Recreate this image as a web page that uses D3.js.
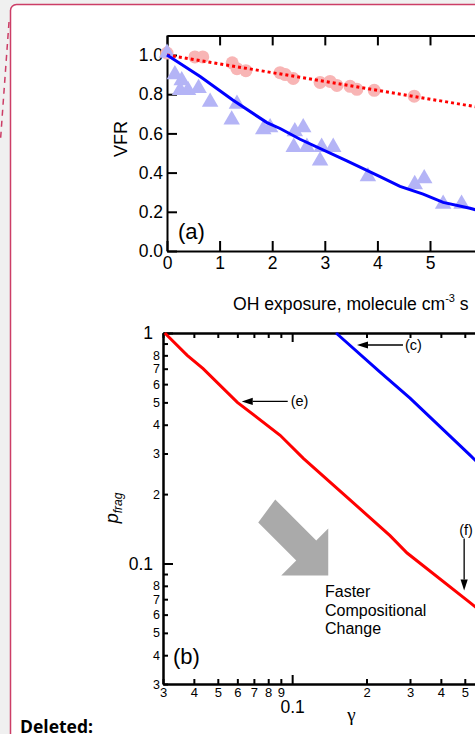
<!DOCTYPE html>
<html><head><meta charset="utf-8">
<script src="https://cdn.jsdelivr.net/npm/d3@7"></script>
<style>
html,body{margin:0;padding:0;background:#f0f0f0;overflow:hidden;}
svg{display:block;}
text{font-family:"Liberation Sans",Arial,sans-serif;fill:#000;}
</style></head><body>
<svg id="c" width="475" height="734"></svg>
<script>
// ---------- Panel (a) data ----------
const exposureTicks = [0, 1, 2, 3, 4, 5, 6];
const exposureLabels = ["0", "1", "2", "3", "4", "5", ""];
const vfrTicks = [0, 0.2, 0.4, 0.6, 0.8, 1.0];
const circleX = [0, 0.53, 0.68, 1.24, 1.33, 1.5, 2.15, 2.25, 2.4, 2.91, 3.1, 3.23, 3.48, 3.61, 3.94, 4.7];
const circleY = [1.01, 0.99, 0.99, 0.96, 0.93, 0.92, 0.91, 0.90, 0.88, 0.86, 0.865, 0.845, 0.84, 0.825, 0.82, 0.79];
const triX = [0, 0.15, 0.28, 0.25, 0.4, 0.6, 0.82, 1.23, 1.33, 1.83, 1.96, 2.43, 2.41, 2.59, 2.66, 2.94, 2.91, 3.16, 3.82, 4.71, 4.89, 5.25, 5.6];
const triY = [1.01, 0.90, 0.87, 0.82, 0.82, 0.83, 0.76, 0.67, 0.75, 0.62, 0.63, 0.61, 0.53, 0.63, 0.53, 0.53, 0.46, 0.53, 0.38, 0.34, 0.37, 0.24, 0.24];
const redFitX = [0, 6];
const redFitY = [1.0, 0.73];
const blueFitX = [0, 0.63, 1.25, 1.9, 2.15, 2.53, 3.42, 4.05, 4.43, 4.87, 5.25, 5.76, 6];
const blueFitY = [1.0, 0.89, 0.77, 0.655, 0.625, 0.57, 0.46, 0.38, 0.33, 0.29, 0.248, 0.218, 0.2];

// ---------- Panel (b) data ----------
const gammaMajor = [0.1];
const gammaMajorLabels = ["0.1"];
const gammaMinor = [0.03, 0.04, 0.05, 0.06, 0.07, 0.08, 0.09, 0.2, 0.3, 0.4, 0.5, 0.6, 0.7, 0.8, 0.9];
const gammaMinorLabels = ["3", "4", "5", "6", "7", "8", "9", "2", "3", "4", "5", "", "", "", ""];
const pMajor = [0.1, 1];
const pMajorLabels = ["0.1", "1"];
const pMinor = [0.03, 0.04, 0.05, 0.06, 0.07, 0.08, 0.09, 0.2, 0.3, 0.4, 0.5, 0.6, 0.7, 0.8, 0.9];
const pMinorLabels = ["3", "4", "5", "6", "7", "8", "", "2", "3", "4", "5", "6", "7", "8", ""];
const redCurveG = [0.0305, 0.0376, 0.0436, 0.06, 0.0894, 0.111, 0.2, 0.249, 0.292, 0.525, 0.56];
const redCurveP = [1.0, 0.80, 0.70, 0.50, 0.36, 0.286, 0.163, 0.132, 0.111, 0.0676, 0.064];
const blueCurveG = [0.1506, 0.227, 0.30, 0.525, 0.56];
const blueCurveP = [1.0, 0.677, 0.522, 0.295, 0.276];

const svg = d3.select("#c");

// ---------- page frame ----------
svg.append("rect").attr("x", 0).attr("y", 0).attr("width", 475).attr("height", 734).attr("fill", "#f0f0f0");
svg.append("rect").attr("x", 10.5).attr("y", 4.5).attr("width", 520).attr("height", 800)
  .attr("rx", 6).attr("fill", "#fff").attr("stroke", "#cc3d66").attr("stroke-width", 1.5);
svg.append("line").attr("x1", 9).attr("y1", 22).attr("x2", 0.5).attr("y2", 140)
  .attr("stroke", "#cc3d66").attr("stroke-width", 1.5).attr("stroke-dasharray", "6,5");
svg.append("text").attr("x", 20).attr("y", 733).text("Deleted:")
  .style("font-family", "'Open Sans','Noto Sans',sans-serif").style("font-weight", "700").style("font-size", "17.5px");

function styleAxis(g, fs) {
  g.select(".domain").attr("stroke", "#000").attr("stroke-width", 2);
  g.selectAll(".tick line").attr("stroke", "#000").attr("stroke-width", 2);
  g.selectAll(".tick text").style("font-size", fs + "px").style("font-family", "'Liberation Sans',Arial,sans-serif");
}

// ---------- Panel (a) ----------
const xA = d3.scaleLinear().domain([0, 6]).range([167, 167 + 6 * 52.6]);
const yA = d3.scaleLinear().domain([0, 1.1]).range([251, 251 - 1.1 * 196]);

const gA = svg.append("g");
gA.append("g").attr("transform", `translate(0,${yA(0)})`)
  .call(d3.axisBottom(xA).tickValues(exposureTicks).tickFormat((d, i) => exposureLabels[i]).tickSize(-10).tickSizeOuter(0).tickPadding(6))
  .call(g => styleAxis(g, 17.5));
gA.append("g").attr("transform", `translate(0,${yA(1.1)})`)
  .call(d3.axisTop(xA).tickValues(exposureTicks).tickFormat("").tickSize(-10).tickSizeOuter(0))
  .call(g => styleAxis(g, 17.5));
gA.append("g").attr("transform", `translate(${xA(0)},0)`)
  .call(d3.axisLeft(yA).tickValues(vfrTicks).tickFormat(d3.format(".1f")).tickSize(-10).tickSizeOuter(0).tickPadding(4))
  .call(g => styleAxis(g, 17.5));

// markers
gA.append("g").selectAll("circle").data(circleX.map((x, i) => [x, circleY[i]])).join("circle")
  .attr("cx", d => xA(d[0])).attr("cy", d => yA(d[1])).attr("r", 6.5).attr("fill", "#f8b5b5");
gA.append("g").selectAll("path").data(triX.map((x, i) => [x, triY[i]])).join("path")
  .attr("d", d3.symbol(d3.symbolTriangle).size(118))
  .attr("transform", d => `translate(${xA(d[0])},${yA(d[1])})`).attr("fill", "#b4b4f6");

const lineA = d3.line().x(d => xA(d[0])).y(d => yA(d[1]));
gA.append("path").datum(redFitX.map((x, i) => [x, redFitY[i]])).attr("d", lineA)
  .attr("fill", "none").attr("stroke", "#ff0000").attr("stroke-width", 3).attr("stroke-dasharray", "3,3");
gA.append("path").datum(blueFitX.map((x, i) => [x, blueFitY[i]])).attr("d", lineA)
  .attr("fill", "none").attr("stroke", "#0000ff").attr("stroke-width", 3);

gA.append("text").attr("x", 178).attr("y", 239).style("font-size", "22px").text("(a)");
gA.append("text").attr("transform", "translate(127,139) rotate(-90)").attr("text-anchor", "middle")
  .style("font-size", "18px").text("VFR");
const xt = gA.append("text").attr("x", 233).attr("y", 310).style("font-size", "17.6px");
xt.append("tspan").text("OH exposure, molecule cm");
xt.append("tspan").attr("dy", -8).style("font-size", "11px").text("-3");
xt.append("tspan").attr("dy", 8).text(" s");

// ---------- Panel (b) ----------
const xB = d3.scaleLog().domain([0.03, 1]).range([163, 163 + 247 * Math.log10(1 / 0.03)]);
const yB = d3.scaleLog().domain([0.03, 1]).range([684, 333]);

const gB = svg.append("g");
// bottom
gB.append("g").attr("transform", `translate(0,${yB(0.03)})`)
  .call(d3.axisBottom(xB).tickValues(gammaMinor).tickFormat((d, i) => gammaMinorLabels[i]).tickSize(-5).tickSizeOuter(0).tickPadding(4))
  .call(g => styleAxis(g, 13));
gB.append("g").attr("transform", `translate(0,${yB(0.03)})`)
  .call(d3.axisBottom(xB).tickValues(gammaMajor).tickFormat((d, i) => gammaMajorLabels[i]).tickSize(-9).tickSizeOuter(0).tickPadding(17))
  .call(g => styleAxis(g, 17.5));
// top
gB.append("g").attr("transform", `translate(0,${yB(1)})`)
  .call(d3.axisTop(xB).tickValues(gammaMinor).tickFormat("").tickSize(-5).tickSizeOuter(0))
  .call(g => styleAxis(g, 13));
gB.append("g").attr("transform", `translate(0,${yB(1)})`)
  .call(d3.axisTop(xB).tickValues(gammaMajor).tickFormat("").tickSize(-9).tickSizeOuter(0))
  .call(g => styleAxis(g, 13));
// left
gB.append("g").attr("transform", `translate(${xB(0.03)},0)`)
  .call(d3.axisLeft(yB).tickValues(pMinor).tickFormat((d, i) => pMinorLabels[i]).tickSize(-5).tickSizeOuter(0).tickPadding(3))
  .call(g => styleAxis(g, 12.5));
gB.append("g").attr("transform", `translate(${xB(0.03)},0)`)
  .call(d3.axisLeft(yB).tickValues(pMajor).tickFormat((d, i) => pMajorLabels[i]).tickSize(-10).tickSizeOuter(0).tickPadding(10))
  .call(g => styleAxis(g, 17.5));

// gray arrow (anchored at its tip in data space)
const tip = [xB(0.14), yB(0.0887)];
const arrowShape = [[-53, -76], [-12, -35], [0, -47], [0, 0], [-47, 0], [-32, -15], [-70, -53]];
gB.append("polygon").attr("points", arrowShape.map(p => [tip[0] + p[0], tip[1] + p[1]].join(",")).join(" "))
  .attr("fill", "#aaaaaa");

const lineB = d3.line().x(d => xB(d[0])).y(d => yB(d[1]));
gB.append("path").datum(redCurveG.map((g, i) => [g, redCurveP[i]])).attr("d", lineB)
  .attr("fill", "none").attr("stroke", "#ff0000").attr("stroke-width", 3);
gB.append("path").datum(blueCurveG.map((g, i) => [g, blueCurveP[i]])).attr("d", lineB)
  .attr("fill", "none").attr("stroke", "#0000ff").attr("stroke-width", 3);

// annotation arrows
function arrow(x1, y1, x2, y2) {
  const ang = Math.atan2(y2 - y1, x2 - x1), L = 11, W = 3.6;
  const bx = x2 - L * Math.cos(ang), by = y2 - L * Math.sin(ang);
  gB.append("line").attr("x1", x1).attr("y1", y1).attr("x2", bx).attr("y2", by)
    .attr("stroke", "#000").attr("stroke-width", 1.3);
  gB.append("polygon").attr("points", [
    [x2, y2],
    [bx - W * Math.sin(ang), by + W * Math.cos(ang)],
    [bx + W * Math.sin(ang), by - W * Math.cos(ang)]
  ].map(p => p.join(",")).join(" ")).attr("fill", "#000");
}
const eTip = [xB(0.0625), yB(0.505)];
arrow(eTip[0] + 46, eTip[1], eTip[0], eTip[1]);
gB.append("text").attr("x", eTip[0] + 49).attr("y", eTip[1] + 5).style("font-size", "14.5px").text("(e)");
const cTip = [xB(0.183), yB(0.887)];
arrow(cTip[0] + 46, cTip[1], cTip[0], cTip[1]);
gB.append("text").attr("x", cTip[0] + 48).attr("y", cTip[1] + 5).style("font-size", "14.5px").text("(c)");
const fTip = [xB(0.497), yB(0.0763)];
arrow(fTip[0], fTip[1] - 52, fTip[0], fTip[1]);
gB.append("text").attr("x", fTip[0] - 5).attr("y", fTip[1] - 56).style("font-size", "14.5px").text("(f)");

const ft = gB.append("text").attr("x", 325).attr("y", 597).style("font-size", "16px");
["Faster", "Compositional", "Change"].forEach((s, i) => ft.append("tspan").attr("x", 325).attr("dy", i === 0 ? 0 : 18.5).text(s));

gB.append("text").attr("x", 173).attr("y", 664).style("font-size", "22px").text("(b)");
gB.append("text").attr("x", 351.5).attr("y", 721).attr("text-anchor", "middle")
  .style("font-family", "'Liberation Serif','DejaVu Serif',serif").style("font-size", "19px").text("γ");
const pl = gB.append("text").attr("transform", "translate(118,508) rotate(-90)").attr("text-anchor", "middle");
pl.append("tspan").style("font-size", "18px").style("font-style", "italic").text("p");
pl.append("tspan").attr("dy", 4).style("font-size", "12px").style("font-style", "italic").text("frag");
</script>
</body></html>
